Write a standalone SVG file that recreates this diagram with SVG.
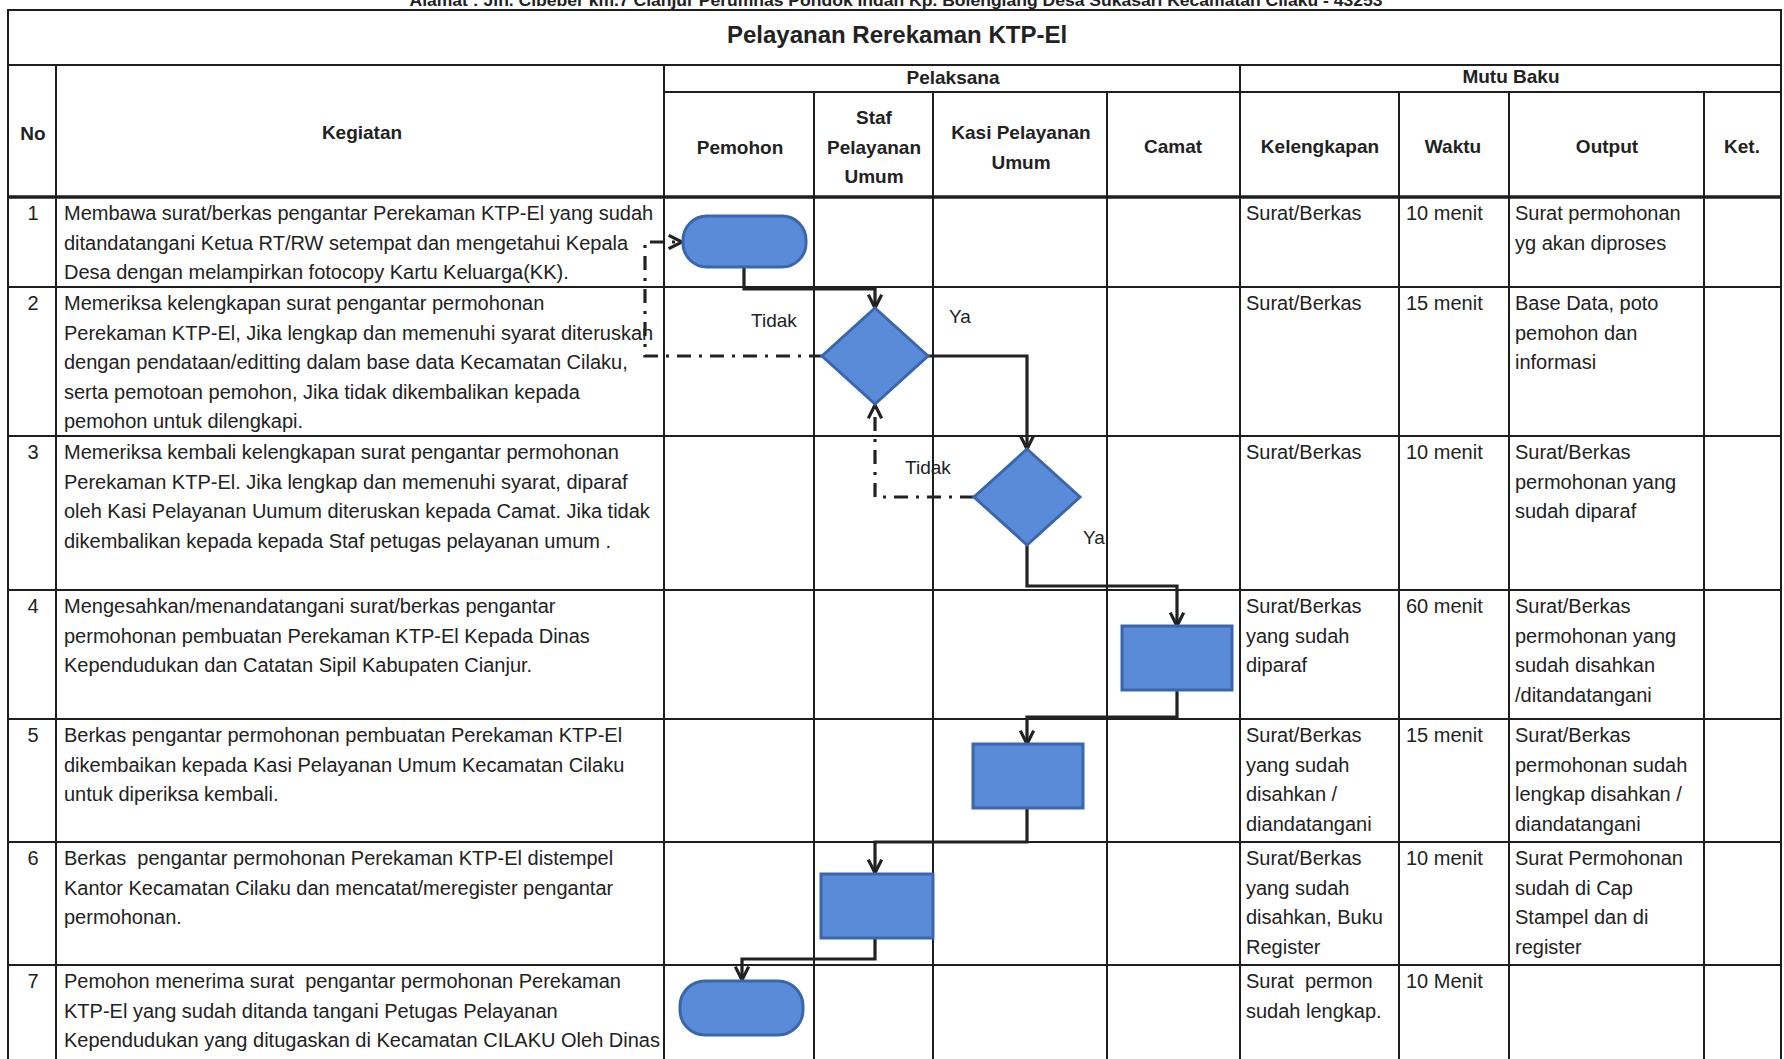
<svg xmlns="http://www.w3.org/2000/svg" width="1784" height="1059" viewBox="0 0 1784 1059">
  <style>
    .grid { stroke: #1e1e1e; stroke-width: 2; fill: none; }
    .thick { stroke: #1e1e1e; stroke-width: 3.5; fill: none; }
    .hd { font-family: "Liberation Sans", Arial, sans-serif; font-weight: bold; font-size: 19px; fill: #222; text-anchor: middle; }
    .title { font-family: "Liberation Sans", Arial, sans-serif; font-weight: bold; font-size: 24px; fill: #222; text-anchor: middle; }
    .addr { font-family: "Liberation Sans", Arial, sans-serif; font-weight: bold; font-size: 16px; fill: #222; text-anchor: middle; }
    .tx { font-family: "Liberation Sans", Arial, sans-serif; font-size: 20px; fill: #222; }
    .num { font-family: "Liberation Sans", Arial, sans-serif; font-size: 20px; fill: #222; text-anchor: middle; }
    .lbl { font-family: "Liberation Sans", Arial, sans-serif; font-size: 19px; fill: #222; text-anchor: middle; }
    .shape { fill: #5a8bd8; stroke: #3a66ad; stroke-width: 3; }
    .flow { fill: none; stroke: #222; stroke-width: 3.2; }
    .back { fill: none; stroke: #222; stroke-width: 3.2; stroke-dasharray: 14 8 3 8; }
  </style>
  <defs>
    <marker id="arrow" viewBox="0 0 12 12" refX="11" refY="6" markerWidth="16" markerHeight="16" markerUnits="userSpaceOnUse" orient="auto">
      <path d="M1,1 L11,6 L1,11" fill="none" stroke="#222" stroke-width="2.4" stroke-linejoin="miter"/>
    </marker>
  </defs>

  <rect width="1784" height="1059" fill="#ffffff"/>

  <!-- address line, mostly above the page edge -->
  <text class="addr" x="896" y="6" textLength="973" lengthAdjust="spacingAndGlyphs">Alamat : Jln. Cibeber km.7 Cianjur Perumnas Pondok Indah Kp. Bolengiang Desa Sukasari Kecamatan Cilaku - 43253</text>

  <!-- table grid -->
  <g id="table">
    <rect class="grid" x="8" y="10" width="1773" height="1060"/>
    <line class="grid" x1="8" y1="65" x2="1781" y2="65"/>
    <line class="grid" x1="664" y1="92" x2="1781" y2="92"/>
    <line class="thick" x1="8" y1="197" x2="1781" y2="197"/>
    <line class="grid" x1="8" y1="287" x2="1781" y2="287"/>
    <line class="grid" x1="8" y1="436" x2="1781" y2="436"/>
    <line class="grid" x1="8" y1="590" x2="1781" y2="590"/>
    <line class="grid" x1="8" y1="719" x2="1781" y2="719"/>
    <line class="grid" x1="8" y1="842" x2="1781" y2="842"/>
    <line class="grid" x1="8" y1="965" x2="1781" y2="965"/>
    <line class="grid" x1="56" y1="65" x2="56" y2="1059"/>
    <line class="grid" x1="664" y1="65" x2="664" y2="1059"/>
    <line class="grid" x1="814" y1="92" x2="814" y2="1059"/>
    <line class="grid" x1="933" y1="92" x2="933" y2="1059"/>
    <line class="grid" x1="1107" y1="92" x2="1107" y2="1059"/>
    <line class="grid" x1="1240" y1="65" x2="1240" y2="1059"/>
    <line class="grid" x1="1399" y1="92" x2="1399" y2="1059"/>
    <line class="grid" x1="1509" y1="92" x2="1509" y2="1059"/>
    <line class="grid" x1="1704" y1="92" x2="1704" y2="1059"/>
  </g>

  <!-- headings -->
  <g id="headings">
    <text class="title" x="897" y="43">Pelayanan Rerekaman KTP-El</text>
    <text class="hd" x="33" y="140">No</text>
    <text class="hd" x="362" y="139">Kegiatan</text>
    <text class="hd" x="953" y="84">Pelaksana</text>
    <text class="hd" x="1511" y="83">Mutu Baku</text>
    <text class="hd" x="740" y="154">Pemohon</text>
    <text class="hd" x="874" y="124">Staf</text>
    <text class="hd" x="874" y="154">Pelayanan</text>
    <text class="hd" x="874" y="183">Umum</text>
    <text class="hd" x="1021" y="139">Kasi Pelayanan</text>
    <text class="hd" x="1021" y="169">Umum</text>
    <text class="hd" x="1173" y="153">Camat</text>
    <text class="hd" x="1320" y="153">Kelengkapan</text>
    <text class="hd" x="1453" y="153">Waktu</text>
    <text class="hd" x="1607" y="153">Output</text>
    <text class="hd" x="1742" y="153">Ket.</text>
  </g>

  <!-- row numbers -->
  <g id="numbers">
    <text class="num" x="33" y="220">1</text>
    <text class="num" x="33" y="310">2</text>
    <text class="num" x="33" y="459">3</text>
    <text class="num" x="33" y="613">4</text>
    <text class="num" x="33" y="742">5</text>
    <text class="num" x="33" y="865">6</text>
    <text class="num" x="33" y="988">7</text>
  </g>

  <!-- activity descriptions -->
  <g id="kegiatan" class="tx">
    <text x="64" y="220">Membawa surat/berkas pengantar Perekaman KTP-El yang sudah</text>
    <text x="64" y="249.5">ditandatangani Ketua RT/RW setempat dan mengetahui Kepala</text>
    <text x="64" y="279">Desa dengan melampirkan fotocopy Kartu Keluarga(KK).</text>

    <text x="64" y="310">Memeriksa kelengkapan surat pengantar permohonan</text>
    <text x="64" y="339.5">Perekaman KTP-El, Jika lengkap dan memenuhi syarat diteruskan</text>
    <text x="64" y="369">dengan pendataan/editting dalam base data Kecamatan Cilaku,</text>
    <text x="64" y="398.5">serta pemotoan pemohon, Jika tidak dikembalikan kepada</text>
    <text x="64" y="428">pemohon untuk dilengkapi.</text>

    <text x="64" y="459">Memeriksa kembali kelengkapan surat pengantar permohonan</text>
    <text x="64" y="488.5">Perekaman KTP-El. Jika lengkap dan memenuhi syarat, diparaf</text>
    <text x="64" y="518">oleh Kasi Pelayanan Uumum diteruskan kepada Camat. Jika tidak</text>
    <text x="64" y="547.5">dikembalikan kepada kepada Staf petugas pelayanan umum .</text>

    <text x="64" y="613">Mengesahkan/menandatangani surat/berkas pengantar</text>
    <text x="64" y="642.5">permohonan pembuatan Perekaman KTP-El Kepada Dinas</text>
    <text x="64" y="672">Kependudukan dan Catatan Sipil Kabupaten Cianjur.</text>

    <text x="64" y="742">Berkas pengantar permohonan pembuatan Perekaman KTP-El</text>
    <text x="64" y="771.5">dikembaikan kepada Kasi Pelayanan Umum Kecamatan Cilaku</text>
    <text x="64" y="801">untuk diperiksa kembali.</text>

    <text x="64" y="865" xml:space="preserve">Berkas  pengantar permohonan Perekaman KTP-El distempel</text>
    <text x="64" y="894.5">Kantor Kecamatan Cilaku dan mencatat/meregister pengantar</text>
    <text x="64" y="924">permohonan.</text>

    <text x="64" y="988" xml:space="preserve">Pemohon menerima surat  pengantar permohonan Perekaman</text>
    <text x="64" y="1017.5">KTP-El yang sudah ditanda tangani Petugas Pelayanan</text>
    <text x="64" y="1047">Kependudukan yang ditugaskan di Kecamatan CILAKU Oleh Dinas</text>
  </g>

  <!-- quality standard columns -->
  <g id="mutu" class="tx">
    <text x="1246" y="220">Surat/Berkas</text>
    <text x="1406" y="220">10 menit</text>
    <text x="1515" y="220">Surat permohonan</text>
    <text x="1515" y="249.5">yg akan diproses</text>

    <text x="1246" y="310">Surat/Berkas</text>
    <text x="1406" y="310">15 menit</text>
    <text x="1515" y="310">Base Data, poto</text>
    <text x="1515" y="339.5">pemohon dan</text>
    <text x="1515" y="369">informasi</text>

    <text x="1246" y="459">Surat/Berkas</text>
    <text x="1406" y="459">10 menit</text>
    <text x="1515" y="459">Surat/Berkas</text>
    <text x="1515" y="488.5">permohonan yang</text>
    <text x="1515" y="518">sudah diparaf</text>

    <text x="1246" y="613">Surat/Berkas</text>
    <text x="1246" y="642.5">yang sudah</text>
    <text x="1246" y="672">diparaf</text>
    <text x="1406" y="613">60 menit</text>
    <text x="1515" y="613">Surat/Berkas</text>
    <text x="1515" y="642.5">permohonan yang</text>
    <text x="1515" y="672">sudah disahkan</text>
    <text x="1515" y="701.5">/ditandatangani</text>

    <text x="1246" y="742">Surat/Berkas</text>
    <text x="1246" y="771.5">yang sudah</text>
    <text x="1246" y="801">disahkan /</text>
    <text x="1246" y="830.5">diandatangani</text>
    <text x="1406" y="742">15 menit</text>
    <text x="1515" y="742">Surat/Berkas</text>
    <text x="1515" y="771.5">permohonan sudah</text>
    <text x="1515" y="801">lengkap disahkan /</text>
    <text x="1515" y="830.5">diandatangani</text>

    <text x="1246" y="865">Surat/Berkas</text>
    <text x="1246" y="894.5">yang sudah</text>
    <text x="1246" y="924">disahkan, Buku</text>
    <text x="1246" y="953.5">Register</text>
    <text x="1406" y="865">10 menit</text>
    <text x="1515" y="865">Surat Permohonan</text>
    <text x="1515" y="894.5">sudah di Cap</text>
    <text x="1515" y="924">Stampel dan di</text>
    <text x="1515" y="953.5">register</text>

    <text x="1246" y="988" xml:space="preserve">Surat  permon</text>
    <text x="1246" y="1017.5">sudah lengkap.</text>
    <text x="1406" y="988">10 Menit</text>
  </g>

  <!-- connectors -->
  <g id="connectors">
    <path class="flow" d="M744,267 V289 H875 V308" marker-end="url(#arrow)"/>
    <path class="flow" d="M928,356 H1027 V449" marker-end="url(#arrow)"/>
    <path class="flow" d="M1027,545 V586 H1177 V626" marker-end="url(#arrow)"/>
    <path class="flow" d="M1177,690 V717 H1027 V744" marker-end="url(#arrow)"/>
    <path class="flow" d="M1027,808 V842 H875 V873" marker-end="url(#arrow)"/>
    <path class="flow" d="M875,938 V959 H742 V980" marker-end="url(#arrow)"/>
    <path class="back" d="M823,356 H645 V242 H682" marker-end="url(#arrow)"/>
    <path class="back" d="M974,497 H875 V405" marker-end="url(#arrow)"/>
    <text class="lbl" x="774" y="327">Tidak</text>
    <text class="lbl" x="960" y="323">Ya</text>
    <text class="lbl" x="928" y="474">Tidak</text>
    <text class="lbl" x="1094" y="544">Ya</text>
  </g>

  <!-- flow nodes -->
  <g id="start">
    <rect class="shape" x="683" y="216" width="123" height="51" rx="24"/>
  </g>
  <g id="check-staf">
    <polygon class="shape" points="875,308 928,356 875,404 822,356"/>
  </g>
  <g id="check-kasi">
    <polygon class="shape" points="1027,449 1080,497 1027,545 974,497"/>
  </g>
  <g id="sign-camat">
    <rect class="shape" x="1122" y="626" width="110" height="64"/>
  </g>
  <g id="return-kasi">
    <rect class="shape" x="973" y="744" width="110" height="64"/>
  </g>
  <g id="stamp-staf">
    <rect class="shape" x="821" y="874" width="112" height="64"/>
  </g>
  <g id="finish">
    <rect class="shape" x="680" y="981" width="123" height="54" rx="25"/>
  </g>
</svg>
